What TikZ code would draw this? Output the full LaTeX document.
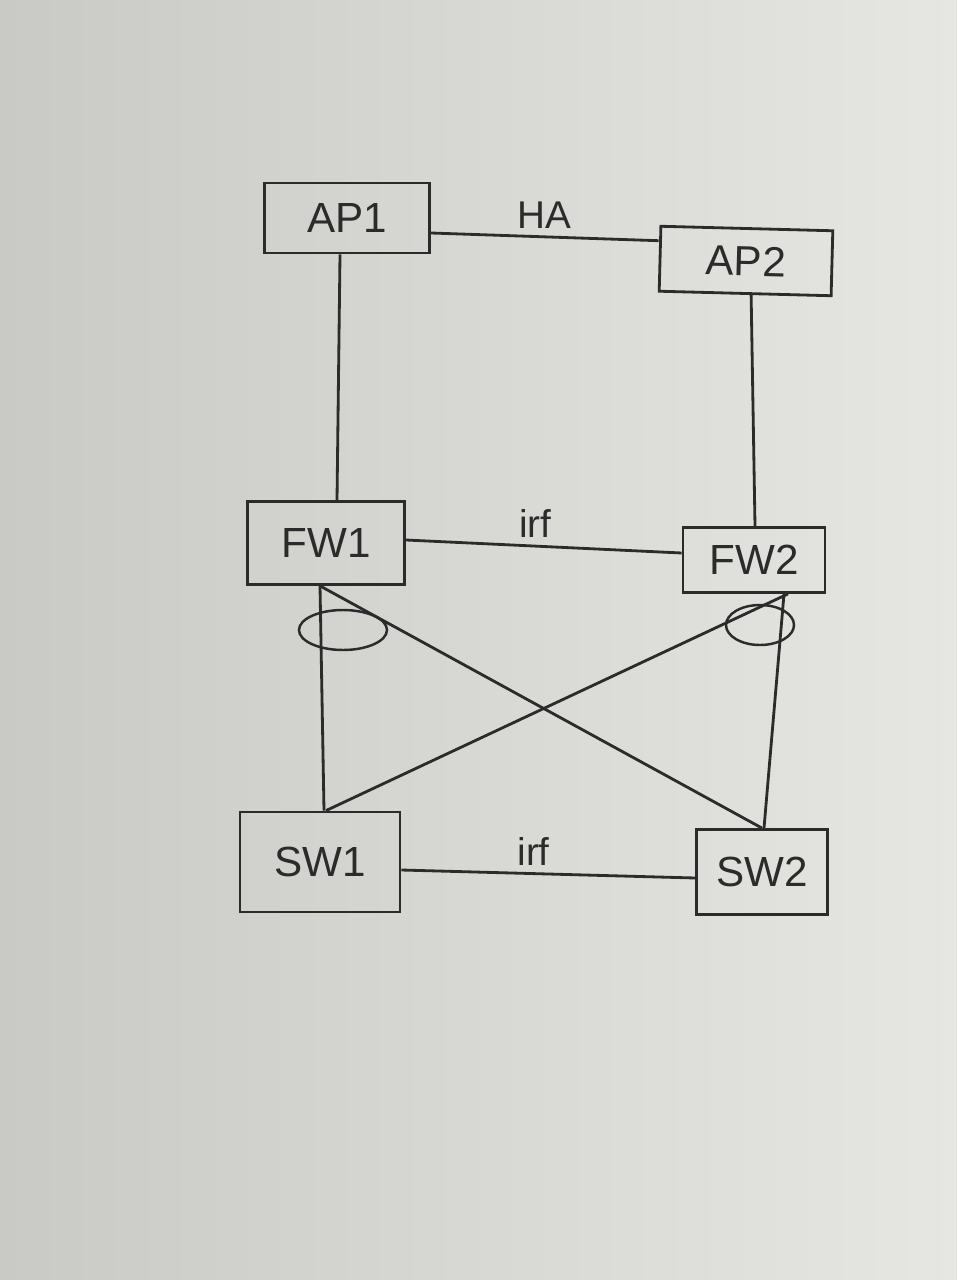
\documentclass[tikz,border=0pt]{standalone}
\usepackage{fontspec}
\setsansfont{Liberation Sans}
\usetikzlibrary{calc}
\definecolor{ink}{HTML}{2B2B2B}
\definecolor{paperL}{HTML}{C9C9C6}
\definecolor{paperR}{HTML}{E6E6E3}
\tikzset{
  dev/.style={draw=ink, line width=1.6pt, rectangle, inner sep=0pt,
    font=\sffamily\fontsize{24}{26}\selectfont, text=ink},
  lnk/.style={draw=ink, line width=1.6pt},
  lbl/.style={font=\sffamily\fontsize{22}{24}\selectfont, text=ink, inner sep=1pt},
  lag/.style={draw=ink, line width=1.4pt}
}
\begin{document}
\begin{tikzpicture}[x=0.02cm, y=-0.02cm]
  \useasboundingbox (0,0) rectangle (957,1280);
  \shade[left color=paperL, right color=paperR] (0,0) rectangle (957,1280);
  % devices
  \node[dev, minimum width=3.3cm, minimum height=1.4cm] (AP1) at (347,218) {AP1};
  \node[dev, minimum width=3.44cm, minimum height=1.3cm, rotate=-1.5] (AP2) at (746,261) {AP2};
  \node[dev, minimum width=3.14cm, minimum height=1.66cm] (FW1) at (326,543) {FW1};
  \node[dev, minimum width=2.84cm, minimum height=1.3cm] (FW2) at (754,560) {FW2};
  \node[dev, minimum width=3.2cm, minimum height=2.0cm] (SW1) at (320,862) {SW1};
  \node[dev, minimum width=2.62cm, minimum height=1.7cm] (SW2) at (762,872) {SW2};
  % attachment points
  \coordinate (ap1e) at ($(AP1.east)+(0,15)$);
  \coordinate (ap2w) at ($(AP2.west)+(0,-18)$);
  \coordinate (ap1s) at ($(AP1.south)+(-7,0)$);
  \coordinate (fw1n) at ($(FW1.north)+(11,0)$);
  \coordinate (ap2s) at ($(AP2.south)+(6,0)$);
  \coordinate (fw2n) at ($(FW2.north)+(1,0)$);
  \coordinate (fw1e) at ($(FW1.east)+(0,-3)$);
  \coordinate (fw2w) at ($(FW2.west)+(0,-7)$);
  \coordinate (sw1e) at ($(SW1.east)+(0,8)$);
  \coordinate (sw2w) at ($(SW2.west)+(0,6)$);
  % links
  \draw[lnk] (ap1e) -- node[lbl, above=3pt, pos=0.5] (ha) {HA} (ap2w);
  \draw[lnk] (ap1s) -- (fw1n);
  \draw[lnk] (ap2s) -- (fw2n);
  \draw[lnk] (fw1e) -- node[lbl, above=3pt, pos=0.47] (irf1) {irf} (fw2w);
  \draw[lnk] (sw1e) -- node[lbl, above=3pt, pos=0.45] (irf2) {irf} (sw2w);
  \coordinate (f1a) at ($(FW1.south)+(-6,0)$);
  \coordinate (f2a) at ($(FW2.south)+(34,0)$);
  \coordinate (f2b) at ($(FW2.south)+(30,0)$);
  \draw[lnk] (f1a) -- ($(SW1.north)+(4,0)$);
  \draw[lnk] (f1a) -- (SW2.north);
  \draw[lnk] (f2a) -- ($(SW1.north)+(6,0)$);
  \draw[lnk] (f2b) -- ($(SW2.north)+(2,0)$);
  % link-aggregation marks
  \draw[lag] (343,630) ellipse (44 and 20);
  \draw[lag] (760,625) ellipse (34 and 20);
\end{tikzpicture}
\end{document}
